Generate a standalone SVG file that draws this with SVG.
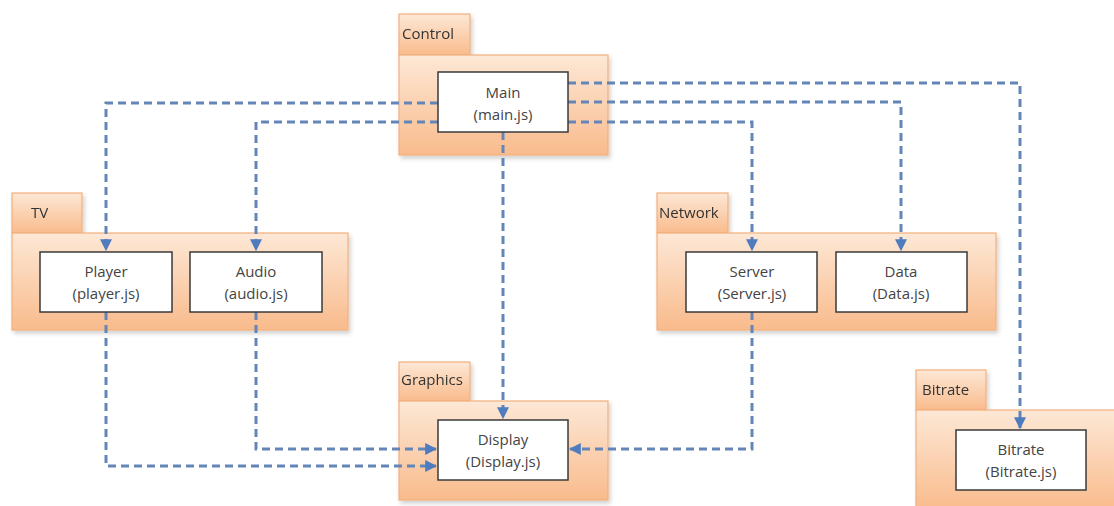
<svg xmlns="http://www.w3.org/2000/svg" width="1114" height="506" viewBox="0 0 1114 506">
<defs>
<linearGradient id="pkg" x1="0" y1="0" x2="0" y2="1">
<stop offset="0" stop-color="#fde8d6"/>
<stop offset="1" stop-color="#f9bb8c"/>
</linearGradient>
<filter id="sh" x="-5%" y="-5%" width="115%" height="120%">
<feDropShadow dx="2" dy="3" stdDeviation="2" flood-color="#000" flood-opacity="0.18"/>
</filter>
<marker id="ah" viewBox="0 0 10 10" refX="9" refY="5" markerWidth="4" markerHeight="4" orient="auto">
<path d="M0,0 L10,5 L0,10 z" fill="#4f7bbf"/>
</marker>
<style>
.pk{fill:url(#pkg);stroke:#f2b07c;stroke-width:1.2}
.bx{fill:#fff;stroke:#3a3a3a;stroke-width:1.5}
.lb{font-family:"Open Sans","Noto Sans",sans-serif;font-size:15px;fill:#333}
.t{font-family:"Open Sans","Noto Sans",sans-serif;font-size:15px;fill:#444;text-anchor:middle}
.c{fill:none;stroke:#6485b8;stroke-width:3;stroke-dasharray:8 5;marker-end:url(#ah)}
</style>
</defs>
<rect width="1114" height="506" fill="#fff"/>

<g id="control" filter="url(#sh)">
<rect class="pk" x="399" y="14" width="71" height="41"/>
<rect class="pk" x="399" y="55" width="209" height="100"/>
<text class="lb" x="402" y="39">Control</text>
</g>
<g id="tv" filter="url(#sh)">
<rect class="pk" x="12" y="193" width="70" height="40"/>
<rect class="pk" x="12" y="233" width="336" height="97"/>
<text class="lb" x="31" y="218">TV</text>
</g>
<g id="network" filter="url(#sh)">
<rect class="pk" x="657" y="193" width="71" height="40"/>
<rect class="pk" x="657" y="233" width="339" height="97"/>
<text class="lb" x="659" y="218">Network</text>
</g>
<g id="graphics" filter="url(#sh)">
<rect class="pk" x="399" y="362" width="71" height="39"/>
<rect class="pk" x="399" y="401" width="209" height="99"/>
<text class="lb" x="401" y="385">Graphics</text>
</g>
<g id="bitrate-pkg" filter="url(#sh)">
<rect class="pk" x="916" y="370" width="70" height="40"/>
<rect class="pk" x="916" y="410" width="205" height="100"/>
<text class="lb" x="922" y="395">Bitrate</text>
</g>

<g id="connectors">
<path class="c" d="M568,83 H1020 V428"/>
<path class="c" d="M568,102 H901 V250"/>
<path class="c" d="M568,122 H752 V250"/>
<path class="c" d="M438,103 H106 V250"/>
<path class="c" d="M438,122 H256 V250"/>
<path class="c" d="M503,132 V418"/>
<path class="c" d="M256,312 V449 H436"/>
<path class="c" d="M106,312 V466 H436"/>
<path class="c" d="M752,312 V449 H570"/>
</g>

<g id="main"><rect class="bx" x="438" y="72" width="130" height="60"/>
<text class="t" x="503" y="98">Main</text><text class="t" x="503" y="120">(main.js)</text></g>
<g id="player"><rect class="bx" x="40" y="252" width="132" height="60"/>
<text class="t" x="106" y="277">Player</text><text class="t" x="106" y="299">(player.js)</text></g>
<g id="audio"><rect class="bx" x="190" y="252" width="132" height="60"/>
<text class="t" x="256" y="277">Audio</text><text class="t" x="256" y="299">(audio.js)</text></g>
<g id="server"><rect class="bx" x="686" y="252" width="131" height="60"/>
<text class="t" x="752" y="277">Server</text><text class="t" x="752" y="299">(Server.js)</text></g>
<g id="data"><rect class="bx" x="836" y="252" width="131" height="60"/>
<text class="t" x="901" y="277">Data</text><text class="t" x="901" y="299">(Data.js)</text></g>
<g id="display"><rect class="bx" x="438" y="420" width="130" height="60"/>
<text class="t" x="503" y="445">Display</text><text class="t" x="503" y="467">(Display.js)</text></g>
<g id="bitrate"><rect class="bx" x="956" y="430" width="130" height="60"/>
<text class="t" x="1021" y="455">Bitrate</text><text class="t" x="1021" y="477">(Bitrate.js)</text></g>
</svg>
